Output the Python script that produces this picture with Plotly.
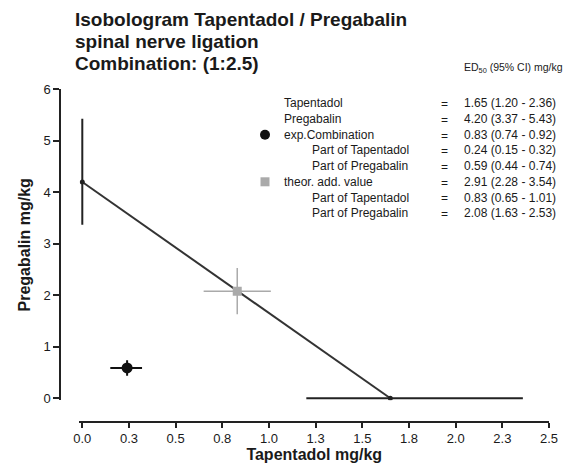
import plotly.graph_objects as go

# page body has an 8px margin: the figure starts at (8, 8) of the window
OFF = 8
W, H = 581 - OFF, 466 - OFF

# ---- data ----
row_labels = ["Tapentadol", "Pregabalin", "exp.Combination", "Part of Tapentadol",
              "Part of Pregabalin", "theor. add. value", "Part of Tapentadol", "Part of Pregabalin"]
row_indent = [0, 0, 0, 1, 1, 0, 1, 1]
ed50 = [1.65, 4.20, 0.83, 0.24, 0.59, 2.91, 0.83, 2.08]
ci_low = [1.20, 3.37, 0.74, 0.15, 0.44, 2.28, 0.65, 1.63]
ci_high = [2.36, 5.43, 0.92, 0.32, 0.74, 3.54, 1.01, 2.53]

x_tickvals = [0, 0.25, 0.5, 0.75, 1.0, 1.25, 1.5, 1.75, 2.0, 2.25, 2.5]
x_ticktext = ["0.0", "0.3", "0.5", "0.8", "1.0", "1.3", "1.5", "1.8", "2.0", "2.3", "2.5"]
y_tickvals = [0, 1, 2, 3, 4, 5, 6]
y_ticktext = ["0", "1", "2", "3", "4", "5", "6"]

title_lines = ["Isobologram Tapentadol / Pregabalin", "spinal nerve ligation", "Combination: (1:2.5)"]

FONT = "Liberation Sans, Arial, sans-serif"
TXT = "#1a1a1a"

def px(x):
    return (x - OFF) / W

def py(y):
    return 1 - (y - OFF) / H

tap, tap_lo, tap_hi = ed50[0], ci_low[0], ci_high[0]
pre, pre_lo, pre_hi = ed50[1], ci_low[1], ci_high[1]
ex_x, ex_xlo, ex_xhi = ed50[3], ci_low[3], ci_high[3]
ex_y, ex_ylo, ex_yhi = ed50[4], ci_low[4], ci_high[4]
th_x, th_xlo, th_xhi = ed50[6], ci_low[6], ci_high[6]
th_y, th_ylo, th_yhi = ed50[7], ci_low[7], ci_high[7]

fig = go.Figure()

# isobole line
fig.add_trace(go.Scatter(x=[0, tap], y=[pre, 0], mode="lines+markers",
                         line=dict(color="#333333", width=2),
                         marker=dict(color="#222222", size=5), hoverinfo="skip"))
# Pregabalin CI (vertical at x=0)
fig.add_trace(go.Scatter(x=[0], y=[pre], mode="markers", marker=dict(size=1, color="#222"),
                         error_y=dict(type="data", symmetric=False, array=[pre_hi - pre],
                                      arrayminus=[pre - pre_lo], color="#222222", thickness=2, width=0)))
# Tapentadol CI (horizontal at y=0)
fig.add_trace(go.Scatter(x=[tap], y=[0], mode="markers", marker=dict(size=1, color="#222"),
                         error_x=dict(type="data", symmetric=False, array=[tap_hi - tap],
                                      arrayminus=[tap - tap_lo], color="#222222", thickness=2, width=0)))
# theoretical additive point
fig.add_trace(go.Scatter(x=[th_x], y=[th_y], mode="markers",
                         marker=dict(symbol="square", size=9, color="#aaaaaa"),
                         error_x=dict(type="data", symmetric=False, array=[th_xhi - th_x],
                                      arrayminus=[th_x - th_xlo], color="#aaaaaa", thickness=1.5, width=0),
                         error_y=dict(type="data", symmetric=False, array=[th_yhi - th_y],
                                      arrayminus=[th_y - th_ylo], color="#aaaaaa", thickness=1.5, width=0)))
# experimental combination
fig.add_trace(go.Scatter(x=[ex_x], y=[ex_y], mode="markers",
                         marker=dict(symbol="circle", size=11, color="#111111"),
                         error_x=dict(type="data", symmetric=False, array=[ex_xhi - ex_x],
                                      arrayminus=[ex_x - ex_xlo], color="#111111", thickness=2, width=0),
                         error_y=dict(type="data", symmetric=False, array=[ex_yhi - ex_y],
                                      arrayminus=[ex_y - ex_ylo], color="#111111", thickness=2, width=0)))

# axis geometry (window pixels)
x0_px, x25_px = 82.3, 549.0
y0_px, y6_px = 398.3, 89.3
xs = (x25_px - x0_px) / 2.5
ys = (y0_px - y6_px) / 6
xmin = -0.015
ymin = -0.04

fig.update_layout(
    width=W, height=H,
    margin=dict(l=0, r=0, t=0, b=0, autoexpand=False),
    paper_bgcolor="white", plot_bgcolor="white",
    showlegend=False,
    font=dict(family=FONT, color=TXT),
    xaxis=dict(range=[xmin, 2.5], domain=[px(x0_px + xmin * xs), px(x25_px)],
               anchor="free", position=py(422), automargin=False,
               showgrid=False, zeroline=False, showline=True, linecolor="#222", linewidth=1.5,
               ticks="outside", ticklen=5, tickwidth=1.5, tickcolor="#222",
               tickvals=x_tickvals, ticktext=x_ticktext,
               tickfont=dict(size=13, family=FONT, color=TXT),
               title=dict(text="<b>Tapentadol mg/kg</b>", font=dict(size=16, family=FONT, color=TXT),
                          standoff=2)),
    yaxis=dict(range=[ymin, 6], domain=[py(y0_px - ymin * ys), py(y6_px)],
               anchor="free", position=px(60), automargin=False,
               showgrid=False, zeroline=False, showline=True, linecolor="#222", linewidth=1.5,
               ticks="outside", ticklen=6, tickwidth=1.5, tickcolor="#222",
               tickvals=y_tickvals, ticktext=y_ticktext,
               tickfont=dict(size=13, family=FONT, color=TXT),
               title=dict(text="<b>Pregabalin mg/kg</b>", font=dict(size=16, family=FONT, color=TXT),
                          standoff=8)),
)

ann = []
# title lines
title_y = [20, 41.7, 63.4]
for t, yy in zip(title_lines, title_y):
    ann.append(dict(text="<b>" + t + "</b>", x=px(73), y=py(yy), xref="paper", yref="paper",
                    xanchor="left", yanchor="middle", showarrow=False,
                    font=dict(size=19, family=FONT, color=TXT)))
# header
ann.append(dict(text="ED<sub>50</sub> (95% CI) mg/kg", x=px(462), y=py(68), xref="paper", yref="paper",
                xanchor="left", yanchor="middle", showarrow=False, font=dict(size=10.5, family=FONT, color=TXT)))
# rows
for i, lab in enumerate(row_labels):
    yy = 103.3 + 15.7 * i
    xl = 310 if row_indent[i] else 282
    ann.append(dict(text=lab, x=px(xl), y=py(yy), xref="paper", yref="paper", xanchor="left",
                    yanchor="middle", showarrow=False, font=dict(size=12, family=FONT, color=TXT)))
    ann.append(dict(text="=", x=px(444), y=py(yy + 1), xref="paper", yref="paper", xanchor="center",
                    yanchor="middle", showarrow=False, font=dict(size=12, family=FONT, color=TXT)))
    val = f"{ed50[i]:.2f} ({ci_low[i]:.2f} - {ci_high[i]:.2f})"
    ann.append(dict(text=val, x=px(462), y=py(yy), xref="paper", yref="paper", xanchor="left",
                    yanchor="middle", showarrow=False, font=dict(size=12, family=FONT, color=TXT)))
fig.update_layout(annotations=ann)

# legend symbols
c_y = 103.3 + 15.7 * 2
s_y = 103.3 + 15.7 * 5
fig.add_shape(type="circle", xref="paper", yref="paper", x0=px(260), x1=px(270), y0=py(c_y + 5), y1=py(c_y - 5),
              fillcolor="#111111", line=dict(width=0))
fig.add_shape(type="rect", xref="paper", yref="paper", x0=px(260.5), x1=px(269.5), y0=py(s_y + 4.5), y1=py(s_y - 4.5),
              fillcolor="#aaaaaa", line=dict(width=0))

fig.write_html("out.html")
